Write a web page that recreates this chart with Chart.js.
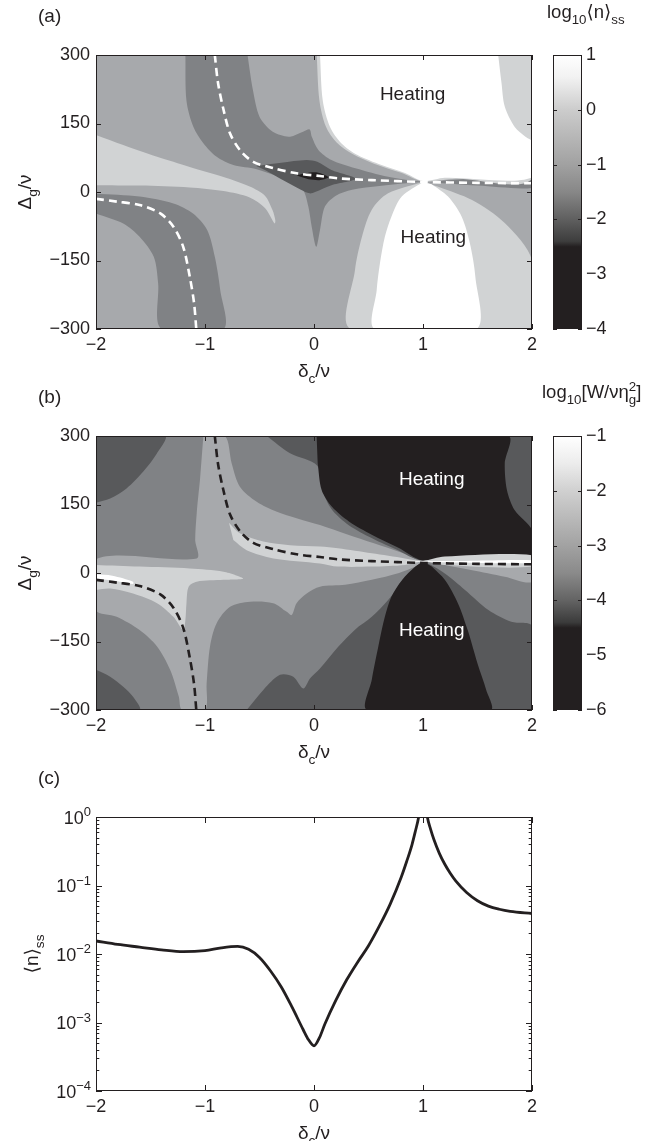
<!DOCTYPE html>
<html>
<head>
<meta charset="utf-8">
<title>Cooling maps</title>
<script src="https://cdn.jsdelivr.net/npm/chart.js@4.4.1/dist/chart.umd.min.js"></script>
<style>
  html, body { margin: 0; padding: 0; background: #fff; }
  #page { position: relative; width: 672px; height: 1141px; overflow: hidden; background: #fff; }
  #page canvas { position: absolute; }
</style>
</head>
<body>
<div id="page">
  <canvas id="mapA" width="545" height="390" style="left:0px;top:0px"></canvas>
  <canvas id="barA" width="132" height="345" style="left:540px;top:0px"></canvas>
  <canvas id="mapB" width="545" height="390" style="left:0px;top:381px"></canvas>
  <canvas id="barB" width="132" height="345" style="left:540px;top:381px"></canvas>
  <canvas id="lineC" width="545" height="379" style="left:0px;top:762px"></canvas>
</div>
<script>
// axis ranges and tick values
const deltaRange = [-2, 2];
const detuneRange = [-300, 300];
const nssRange = [1e-4, 1];
const nssDecades = [1e-4, 1e-3, 1e-2, 1e-1, 1];
const cbarARange = [-4, 1];
const cbarBRange = [-6, -1];

// dashed resonance curves, [delta_c/nu, Delta_g/nu]; same curves in (a) and (b)
const resonanceUpper = [[-0.91, 300], [-0.88, 238], [-0.83, 180], [-0.77, 128], [-0.68, 92], [-0.557, 66],
  [-0.37, 52], [-0.16, 41], [0.055, 35], [0.22, 30], [0.53, 26], [1.0, 22], [1.5, 20], [2.0, 19]];
const resonanceLower = [[-2, -15], [-1.81, -21], [-1.6, -28.5], [-1.41, -47], [-1.29, -76], [-1.2, -120],
  [-1.14, -185], [-1.1, -244], [-1.08, -300]];

// (a) log10<n>ss contour regions, painted in this order
const aFloor = [[-2, 300], [2, 300], [2, -300], [-2, -300]];
const aTongue = [[-2, 125], [-1.75, 103], [-1.44, 77], [-1.14, 55], [-0.83, 33], [-0.59, 12], [-0.45, -8],
  [-0.38, -40], [-0.355, -62], [-0.36, -69], [-0.385, -60], [-0.45, -35], [-0.59, -12], [-0.83, 2],
  [-1.14, 10], [-1.6, 14], [-2, 15]];
const aBandLow = [[-2, -4], [-1.6, -10], [-1.29, -25], [-1.11, -47], [-0.98, -83], [-0.91, -142],
  [-0.86, -215], [-0.83, -300], [-1.4, -300], [-1.43, -200], [-1.47, -142], [-1.6, -98], [-1.75, -69], [-2, -47]];
const aBandUp = [[-1.18, 300], [-1.17, 200], [-1.107, 143], [-1.015, 107], [-0.893, 77], [-0.74, 59],
  [-0.526, 50], [-0.343, 35], [-0.19, 22], [-0.098, 4], [-0.052, -32], [-0.021, -76], [0.02, -120],
  [0.055, -83], [0.1, -32], [0.2, -8], [0.35, 5], [0.6, 13], [0.85, 19], [1.0, 22], [1.5, 14], [2.0, 9],
  [2.0, 29], [1.3, 27], [1.0, 23], [0.68, 33.5], [0.38, 52], [0.16, 70], [0.04, 92], [-0.02, 121],
  [-0.04, 137], [-0.1, 132], [-0.22, 121], [-0.3, 124], [-0.4, 136], [-0.5, 165], [-0.56, 223], [-0.61, 300]];
const aDiamond = [[-0.53, 57], [-0.3, 64], [-0.07, 70], [0.03, 66], [0.16, 48], [0.38, 29], [0.16, 15],
  [0.01, 0], [-0.04, -3], [-0.12, 5], [-0.3, 28], [-0.45, 48]];
const aCore = [[-0.16, 36], [-0.08, 41], [0.02, 43], [0.1, 37], [0.13, 32], [0.05, 26], [-0.05, 28]];
const aLowLight = [[1.0, 22], [0.68, -3], [0.53, -39], [0.44, -98], [0.376, -171], [0.34, -300], [2.0, -300],
  [2.0, -149], [1.75, -68], [1.45, -17.5], [1.14, 11.7]];
const aLowHeat = [[1.0, 22], [0.805, -10], [0.71, -54], [0.65, -98], [0.605, -156], [0.575, -215], [0.56, -300],
  [1.49, -300], [1.48, -185], [1.43, -112], [1.355, -54], [1.23, -10], [1.08, 17]];
const aUpLight = [[0.025, 300], [0.05, 200], [0.11, 143], [0.21, 108], [0.35, 84], [0.55, 62], [0.8, 42],
  [1.0, 23], [1.3, 29], [2.0, 30], [2.0, 300]];
const aUpHeat = [[0.055, 300], [0.08, 201], [0.146, 143], [0.25, 107], [0.4, 81], [0.62, 59], [0.835, 41.6],
  [1.0, 24], [1.2, 31], [2.0, 32], [2.0, 110], [1.94, 121], [1.84, 143], [1.75, 187], [1.72, 239], [1.69, 300]];
// gray level of each region: 0 white ... 5 black
const aLevels = [2, 1, 3, 3, 4, 5, 1, 0, 1, 0];

// (b) log10[W/(nu eta_g^2)] contour regions, painted in this order
const bFloor = [[-2, 300], [2, 300], [2, -300], [-2, -300]];
const bCornerTop = [[-2, 300], [-1.367, 300], [-1.44, 262], [-1.566, 222], [-1.72, 185], [-1.87, 163], [-2, 154]];
const bCornerLow = [[-2, -212], [-1.87, -227], [-1.75, -249], [-1.66, -271], [-1.6, -300], [-2, -300]];
const bCross = [[-1.015, 300], [-0.817, 300], [-0.755, 240], [-0.68, 189], [-0.526, 156], [-0.34, 134],
  [-0.16, 120], [0.055, 105], [0.3, 85], [0.55, 65], [0.8, 45], [1.0, 27], [1.3, 34], [2.0, 39], [2.0, -19],
  [1.75, -8], [1.44, 6.6], [1.2, 17.5], [1.02, 25], [0.93, 14], [0.78, 0], [0.53, -15], [0.285, -26],
  [0.055, -30], [-0.067, -45], [-0.16, -66], [-0.205, -92], [-0.25, -85], [-0.375, -66], [-0.587, -63],
  [-0.77, -74], [-0.893, -110], [-0.954, -161], [-0.985, -242], [-1.0, -300], [-1.21, -300], [-1.24, -271],
  [-1.32, -212], [-1.44, -161], [-1.6, -125], [-1.81, -96], [-2, -81], [-2, 30], [-1.076, 32], [-1.09, 72],
  [-1.076, 131], [-1.046, 204]];
const bLowDark = [[-0.618, -300], [-0.465, -256], [-0.312, -223], [-0.19, -227], [-0.098, -253],
  [-0.037, -231], [0.055, -209], [0.224, -161], [0.376, -124], [0.53, -96], [0.68, -59], [0.835, -15],
  [0.957, 17.5], [1.0, 25], [1.2, -1], [1.385, -37], [1.6, -81], [1.81, -107], [2.0, -117], [2.0, -300]];
const bLowHeat = [[1.0, 25], [0.93, 14], [0.81, -15], [0.71, -52], [0.65, -96], [0.59, -161], [0.53, -234],
  [0.49, -300], [1.62, -300], [1.58, -256], [1.5, -198], [1.41, -125], [1.32, -66], [1.2, -15], [1.08, 14]];
const bUpDark = [[-0.434, 300], [-0.22, 262], [0.03, 235], [0.08, 180], [0.16, 140], [0.3, 108], [0.5, 80],
  [0.75, 52], [1.0, 27], [2.0, 39], [2.0, 300]];
const bUpHeat = [[0.024, 300], [1.78, 300], [1.75, 240], [1.77, 182], [1.84, 138], [2.0, 94], [2.0, 39],
  [1.3, 33], [1.0, 27], [0.77, 56], [0.53, 84], [0.32, 113], [0.165, 145], [0.07, 182], [0.034, 240]];
const bBandLight = [[-0.78, 110], [-0.68, 87], [-0.465, 69], [-0.22, 61], [0.055, 58], [0.22, 54], [0.53, 43],
  [0.835, 32], [1.0, 27], [1.2, 36], [2.0, 39], [2.0, 14], [1.2, 17.5], [1.0, 25], [0.835, 17.5], [0.53, 14],
  [0.22, 14], [0.055, 21], [-0.373, 32], [-0.618, 50], [-0.74, 72]];
const bStreakRight = [[0.85, 27], [1.0, 26], [1.5, 27], [2.0, 28], [2.0, 22], [1.5, 22], [1.0, 24], [0.85, 25]];
const bTongue = [[-2, 17.5], [-1.6, 14], [-1.14, 10], [-0.83, 3], [-0.65, -12], [-0.83, -15], [-1.076, -19],
  [-1.15, -30], [-1.17, -66], [-1.18, -103], [-1.2, -125], [-1.29, -96], [-1.44, -66], [-1.66, -45],
  [-1.87, -34], [-2, -37]];
const bStreakLeft = [[-2, -3], [-1.85, -6], [-1.66, -19], [-1.66, -24], [-1.85, -16], [-2, -13]];
const bLevels = [3, 4, 4, 2, 4, 5, 4, 5, 1, 0, 1, 0];

// (c) <n>ss along the cut
const cDelta = [-2.0, -1.8, -1.6, -1.4, -1.2, -1.0, -0.85, -0.7, -0.6, -0.5, -0.4, -0.3, -0.2, -0.1, -0.05,
  0.0, 0.05, 0.1, 0.2, 0.3, 0.4, 0.5, 0.6, 0.7, 0.8, 0.85, 0.9, 0.93, 0.96, 1.0, 1.04, 1.07, 1.1, 1.15, 1.2,
  1.25, 1.3, 1.4, 1.5, 1.6, 1.7, 1.8, 2.0];
const cNss = [0.0155, 0.0138, 0.0126, 0.0115, 0.0108, 0.0112, 0.0123, 0.0129, 0.0117, 0.0089, 0.0057, 0.0033,
  0.00166, 0.00079, 0.00056, 0.000457, 0.0006, 0.00095, 0.0021, 0.0042, 0.0076, 0.0132, 0.0257, 0.054, 0.132,
  0.224, 0.40, 0.62, 1.0, 3.0, 1.0, 0.66, 0.47, 0.295, 0.204, 0.151, 0.117, 0.079, 0.06, 0.05, 0.045, 0.042, 0.039];

// styles
const ink = '#231f20';
const family = '"Liberation Sans", Arial, Helvetica, "DejaVu Sans", sans-serif';
const grays = ['#ffffff', '#d1d3d4', '#a7a9ac', '#808285', '#58595b', '#231f20'];
const cmapA = [[1, '#ffffff'], [0.6, '#f2f2f2'], [0, '#cccccc'], [-1, '#a1a1a1'], [-1.5, '#878787'],
  [-2, '#5f5f5f'], [-2.4, '#3d3d3d'], [-2.5, ink], [-4, ink]];
const cmapB = [[-1, '#ffffff'], [-1.5, '#ececec'], [-2, '#d0d0d0'], [-3, '#a2a2a2'], [-3.5, '#8a8a8a'],
  [-4, '#636363'], [-4.4, '#3b3b3b'], [-4.5, ink], [-6, ink]];

Chart.defaults.font.family = family;
Chart.defaults.color = ink;

function fmtMinus(v) {
  return v < 0 ? '\u2212' + Math.abs(v) : String(v);
}

function drawRuns(ctx, runs, align, size, color) {
  const small = size * 0.72;
  const pieces = runs.map(function (r) {
    const s = (r.sub || r.sup) ? small : size;
    ctx.font = s + 'px ' + family;
    let w = ctx.measureText(r.t).width;
    if (r.under) {
      ctx.font = small + 'px ' + family;
      w = Math.max(w, ctx.measureText(r.under).width);
    }
    return { r: r, s: s, w: w };
  });
  const total = pieces.reduce(function (a, p) { return a + p.w; }, 0);
  let x = align === 'center' ? -total / 2 : align === 'right' ? -total : 0;
  ctx.fillStyle = color;
  ctx.textAlign = 'left';
  ctx.textBaseline = 'alphabetic';
  pieces.forEach(function (p) {
    ctx.font = p.s + 'px ' + family;
    const dy = p.r.sub ? size * 0.33 : p.r.sup ? -size * 0.4 : 0;
    ctx.fillText(p.r.t, x, dy);
    if (p.r.under) {
      ctx.fillText(p.r.under, x, size * 0.33);
    }
    x += p.w;
  });
}

const notesPlugin = {
  id: 'notes',
  afterDraw: function (chart, args, opts) {
    const ctx = chart.ctx;
    (opts.items || []).forEach(function (item) {
      let x = item.x;
      let y = item.y;
      if (item.dataX !== undefined) x = chart.scales.x.getPixelForValue(item.dataX);
      if (item.dataY !== undefined) y = chart.scales.y.getPixelForValue(item.dataY) + (item.dy || 0);
      ctx.save();
      ctx.translate(x, y);
      if (item.rotate) ctx.rotate(item.rotate);
      drawRuns(ctx, item.runs, item.align || 'left', item.size || 18, item.color || ink);
      ctx.restore();
    });
  }
};

const framePlugin = {
  id: 'frame',
  afterDraw: function (chart, args, opts) {
    const a = chart.chartArea;
    const ctx = chart.ctx;
    const len = opts.len || 5;
    ctx.save();
    ctx.strokeStyle = ink;
    ctx.lineWidth = 1;
    ctx.strokeRect(a.left + 0.5, a.top + 0.5, a.right - a.left - 1, a.bottom - a.top - 1);
    ctx.beginPath();
    if (opts.xTicks) {
      chart.scales.x.ticks.forEach(function (t) {
        const px = Math.round(chart.scales.x.getPixelForValue(t.value)) + 0.5;
        ctx.moveTo(px, a.bottom); ctx.lineTo(px, a.bottom - len);
        ctx.moveTo(px, a.top); ctx.lineTo(px, a.top + len);
      });
    }
    const yScale = chart.scales.y;
    const major = opts.yValues || yScale.ticks.map(function (t) { return t.value; });
    function yTick(v, l) {
      const py = Math.round(yScale.getPixelForValue(v)) + 0.5;
      ctx.moveTo(a.left, py); ctx.lineTo(a.left + l, py);
      ctx.moveTo(a.right, py); ctx.lineTo(a.right - l, py);
    }
    major.forEach(function (v) { yTick(v, len); });
    (opts.yMinor || []).forEach(function (v) { yTick(v, len * 0.55); });
    ctx.stroke();
    ctx.restore();
  }
};

function toPoints(list) {
  return list.map(function (p) { return { x: p[0], y: p[1] }; });
}

function contourMap(canvasId, regions, levels, dashColor, letter, heatColor, heatSpots) {
  const datasets = [];
  const n = regions.length;
  regions.forEach(function (pts, i) {
    datasets.push({
      data: toPoints(pts),
      showLine: true,
      fill: 'shape',
      tension: 0.3,
      backgroundColor: grays[levels[i]],
      borderWidth: 0,
      pointRadius: 0,
      pointHitRadius: 0,
      order: n - i + 2
    });
  });
  [resonanceUpper, resonanceLower].forEach(function (pts) {
    datasets.push({
      data: toPoints(pts),
      showLine: true,
      fill: false,
      tension: 0.3,
      borderColor: dashColor,
      borderWidth: 2.6,
      borderDash: [8, 5],
      pointRadius: 0,
      pointHitRadius: 0,
      order: 0
    });
  });

  const items = [
    { x: 38, y: 22, runs: [{ t: letter }], size: 19 },
    { x: 314, y: 377, align: 'center', size: 19, runs: [{ t: '\u03b4' }, { t: 'c', sub: true }, { t: '/\u03bd' }] },
    { x: 31, y: 192, rotate: -Math.PI / 2, align: 'center', size: 19,
      runs: [{ t: '\u0394' }, { t: 'g', sub: true }, { t: '/\u03bd' }] }
  ];
  heatSpots.forEach(function (s) {
    items.push({ dataX: s[0], dataY: s[1], dy: 7, align: 'center', size: 19, color: heatColor, runs: [{ t: 'Heating' }] });
  });

  return new Chart(document.getElementById(canvasId), {
    type: 'scatter',
    data: { datasets: datasets },
    options: {
      responsive: false,
      devicePixelRatio: 1,
      animation: false,
      events: [],
      layout: { padding: { left: 0, top: 55, right: 13, bottom: 0 } },
      plugins: {
        legend: { display: false },
        tooltip: { enabled: false },
        frame: { xTicks: true, len: 5 },
        notes: { items: items }
      },
      scales: {
        x: {
          type: 'linear', min: deltaRange[0], max: deltaRange[1],
          grid: { display: false, drawTicks: false },
          border: { display: false },
          ticks: { stepSize: 1, callback: fmtMinus, padding: 5, maxRotation: 0, autoSkip: false, font: { size: 18 } },
          afterFit: function (s) { s.height = 61; }
        },
        y: {
          min: detuneRange[0], max: detuneRange[1],
          grid: { display: false, drawTicks: false },
          border: { display: false },
          ticks: { stepSize: 150, callback: fmtMinus, padding: 6, autoSkip: false, font: { size: 18 } },
          afterFit: function (s) { s.width = 96; }
        }
      }
    },
    plugins: [framePlugin, notesPlugin]
  });
}

function colorBar(canvasId, range, cmap, titleRuns, titleX, titleY) {
  const lo = range[0];
  const hi = range[1];
  return new Chart(document.getElementById(canvasId), {
    type: 'bar',
    data: {
      labels: [''],
      datasets: [{
        data: [[lo, hi]],
        borderWidth: 0,
        barPercentage: 1,
        categoryPercentage: 1,
        backgroundColor: function (c) {
          const chart = c.chart;
          if (!chart.chartArea) return cmap[0][1];
          const y = chart.scales.y;
          const g = chart.ctx.createLinearGradient(0, y.getPixelForValue(hi), 0, y.getPixelForValue(lo));
          cmap.forEach(function (s) { g.addColorStop((hi - s[0]) / (hi - lo), s[1]); });
          return g;
        }
      }]
    },
    options: {
      responsive: false,
      devicePixelRatio: 1,
      animation: false,
      events: [],
      layout: { padding: { left: 13, top: 55, right: 0, bottom: 16 } },
      plugins: {
        legend: { display: false },
        tooltip: { enabled: false },
        frame: { xTicks: false, len: 4 },
        notes: { items: [{ x: titleX, y: titleY, runs: titleRuns, size: 18.5 }] }
      },
      scales: {
        x: { display: false },
        y: {
          position: 'right', min: lo, max: hi,
          grid: { display: false, drawTicks: false },
          border: { display: false },
          ticks: { stepSize: 1, callback: fmtMinus, padding: 4, autoSkip: false, font: { size: 18 } },
          afterFit: function (s) { s.width = 90; }
        }
      }
    },
    plugins: [framePlugin, notesPlugin]
  });
}

contourMap('mapA',
  [aFloor, aTongue, aBandLow, aBandUp, aDiamond, aCore, aLowLight, aLowHeat, aUpLight, aUpHeat],
  aLevels, '#ffffff', '(a)', ink, [[0.905, 217], [1.095, -96]]);

contourMap('mapB',
  [bFloor, bCornerTop, bCornerLow, bCross, bLowDark, bLowHeat, bUpDark, bUpHeat, bBandLight, bStreakRight,
    bTongue, bStreakLeft],
  bLevels, ink, '(b)', '#ffffff', [[1.08, 207], [1.08, -122]]);

colorBar('barA', cbarARange, cmapA,
  [{ t: 'log' }, { t: '10', sub: true }, { t: '\u27e8n\u27e9' }, { t: 'ss', sub: true }], 7, 18);

colorBar('barB', cbarBRange, cmapB,
  [{ t: 'log' }, { t: '10', sub: true }, { t: '[W/\u03bd\u03b7' }, { t: '2', sup: true, under: 'g' }, { t: ']' }], 2, 17);

(function () {
  const minor = [];
  nssDecades.slice(0, -1).forEach(function (d) {
    for (let m = 2; m <= 9; m++) minor.push(m * d);
  });
  const items = [
    { x: 38, y: 22, runs: [{ t: '(c)' }], size: 19 },
    { x: 314, y: 377, align: 'center', size: 19, runs: [{ t: '\u03b4' }, { t: 'c', sub: true }, { t: '/\u03bd' }] },
    { x: 38, y: 954 - 762, rotate: -Math.PI / 2, align: 'center', size: 19,
      runs: [{ t: '\u27e8n\u27e9' }, { t: 'ss', sub: true }] }
  ];
  nssDecades.forEach(function (d) {
    const e = Math.round(Math.log10(d));
    items.push({ x: 91, dataY: d, dy: 6.5, align: 'right', size: 18, runs: [{ t: '10' }, { t: fmtMinus(e), sup: true }] });
  });

  new Chart(document.getElementById('lineC'), {
    type: 'scatter',
    data: {
      datasets: [{
        data: cDelta.map(function (d, i) { return { x: d, y: cNss[i] }; }),
        showLine: true,
        fill: false,
        cubicInterpolationMode: 'monotone',
        borderColor: ink,
        borderWidth: 2.8,
        pointRadius: 0,
        pointHitRadius: 0
      }]
    },
    options: {
      responsive: false,
      devicePixelRatio: 1,
      animation: false,
      events: [],
      layout: { padding: { left: 0, top: 55, right: 13, bottom: 0 } },
      plugins: {
        legend: { display: false },
        tooltip: { enabled: false },
        frame: { xTicks: true, len: 6, yValues: nssDecades, yMinor: minor },
        notes: { items: items }
      },
      scales: {
        x: {
          type: 'linear', min: deltaRange[0], max: deltaRange[1],
          grid: { display: false, drawTicks: false },
          border: { display: false },
          ticks: { stepSize: 1, callback: fmtMinus, padding: 5, maxRotation: 0, autoSkip: false, font: { size: 18 } },
          afterFit: function (s) { s.height = 50; }
        },
        y: {
          type: 'logarithmic', min: nssRange[0], max: nssRange[1],
          grid: { display: false, drawTicks: false },
          border: { display: false },
          ticks: { display: false },
          afterFit: function (s) { s.width = 96; }
        }
      }
    },
    plugins: [framePlugin, notesPlugin]
  });
})();
</script>
</body>
</html>
